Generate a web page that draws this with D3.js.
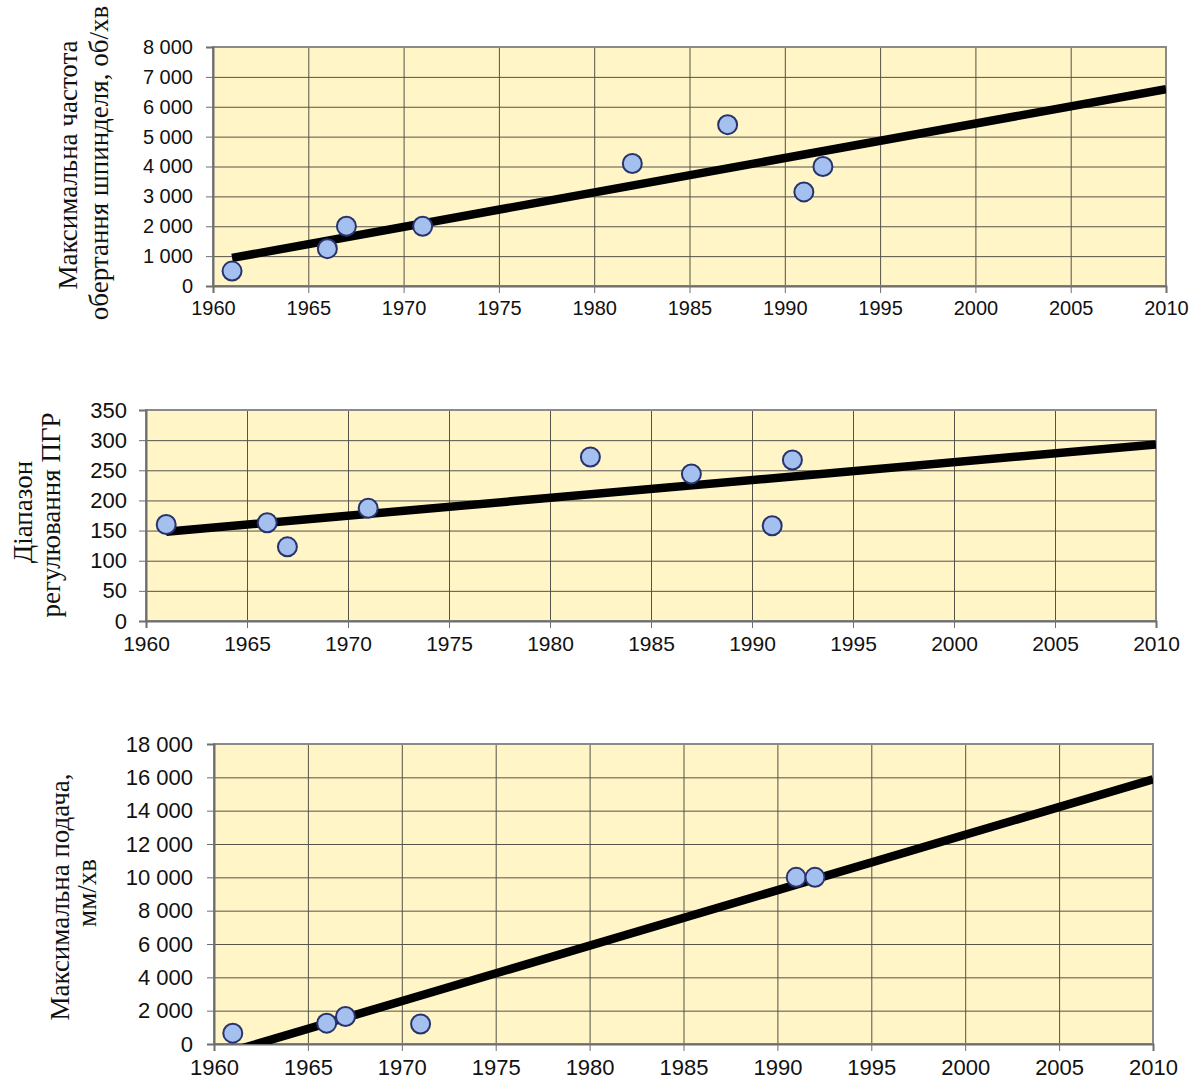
<!DOCTYPE html>
<html>
<head>
<meta charset="utf-8">
<script src="https://cdn.jsdelivr.net/npm/d3@7"></script>
<style>
  html, body { margin: 0; padding: 0; background: #ffffff; }
  svg { display: block; }
</style>
</head>
<body>
<svg id="chart" width="1199" height="1086"></svg>
<script>
// ---------- data ----------
const xTicks = [1960, 1965, 1970, 1975, 1980, 1985, 1990, 1995, 2000, 2005, 2010];

// Chart 1: max spindle speed, rpm
const speedYears  = [1961, 1966, 1967, 1971, 1982, 1987, 1991, 1992];
const speedValues = [500, 1250, 2000, 2000, 4100, 5400, 3150, 4000];
const speedTrendYears  = [1961, 2010];
const speedTrendValues = [940, 6590];
const speedTicks = [0, 1000, 2000, 3000, 4000, 5000, 6000, 7000, 8000];
const speedTitle = ["Максимальна частота", "обертання шпинделя, об/хв"];

// Chart 2: gearbox regulation range
const rangeYears  = [1961, 1966, 1967, 1971, 1982, 1987, 1991, 1992];
const rangeValues = [160, 163, 123, 187, 272, 244, 158, 267];
const rangeTrendYears  = [1961, 2010];
const rangeTrendValues = [148, 293];
const rangeTicks = [0, 50, 100, 150, 200, 250, 300, 350];
const rangeTitle = ["Діапазон", "регулювання ПГР"];

// Chart 3: max feed, mm/min
const feedYears  = [1961, 1966, 1967, 1971, 1991, 1992];
const feedValues = [650, 1250, 1650, 1200, 10000, 10000];
const feedTrendYears  = [1961, 2010];
const feedTrendValues = [-420, 15880];
const feedTicks = [0, 2000, 4000, 6000, 8000, 10000, 12000, 14000, 16000, 18000];
const feedTitle = ["Максимальна подача,", "мм/хв"];

// ---------- drawing ----------
const svg = d3.select("#chart");
const fmt = v => d3.format(",")(v).replace(/,/g, " ");

const charts = [
  { id: "c1", years: speedYears, values: speedValues, tYears: speedTrendYears, tValues: speedTrendValues,
    ticks: speedTicks, title: speedTitle,
    x0: 213, x1: 1166, y0: 47, y1: 286, yFont: 20, xFont: 20, yPad: 13,
    titleX: [77, 108], titleY: [165, 163] },
  { id: "c2", years: rangeYears, values: rangeValues, tYears: rangeTrendYears, tValues: rangeTrendValues,
    ticks: rangeTicks, title: rangeTitle,
    x0: 146, x1: 1156, y0: 410, y1: 621, yFont: 22, xFont: 21, yPad: 12,
    titleX: [32, 60], titleY: [512, 515] },
  { id: "c3", years: feedYears, values: feedValues, tYears: feedTrendYears, tValues: feedTrendValues,
    ticks: feedTicks, title: feedTitle,
    x0: 214, x1: 1153, y0: 744, y1: 1044, yFont: 22, xFont: 22, yPad: 14,
    titleX: [69, 96], titleY: [897, 893] }
];

charts.forEach(c => {
  const x = d3.scaleLinear().domain([1960, 2010]).range([c.x0, c.x1]);
  const yMax = c.ticks[c.ticks.length - 1];
  const y = d3.scaleLinear().domain([0, yMax]).range([c.y1, c.y0]);
  const g = svg.append("g");

  // plot background
  g.append("rect")
    .attr("x", c.x0).attr("y", c.y0)
    .attr("width", c.x1 - c.x0).attr("height", c.y1 - c.y0)
    .attr("fill", "#fff5c6");

  // horizontal gridlines
  g.append("g")
    .attr("transform", `translate(${c.x0},0)`)
    .call(d3.axisLeft(y).tickValues(c.ticks).tickSize(-(c.x1 - c.x0)).tickFormat(""))
    .call(a => a.select(".domain").remove())
    .call(a => a.selectAll("line").attr("stroke", "#55534a").attr("stroke-width", 1));

  // vertical gridlines
  g.append("g")
    .attr("transform", `translate(0,${c.y1})`)
    .call(d3.axisBottom(x).tickValues(xTicks).tickSize(-(c.y1 - c.y0)).tickFormat(""))
    .call(a => a.select(".domain").remove())
    .call(a => a.selectAll("line").attr("stroke", "#55534a").attr("stroke-width", 1));

  // plot border (top/right)
  g.append("rect")
    .attr("x", c.x0).attr("y", c.y0)
    .attr("width", c.x1 - c.x0).attr("height", c.y1 - c.y0)
    .attr("fill", "none").attr("stroke", "#8a8a8a").attr("stroke-width", 2);

  // y axis
  const ya = g.append("g")
    .attr("transform", `translate(${c.x0},0)`)
    .call(d3.axisLeft(y).tickValues(c.ticks).tickSize(7).tickPadding(c.yPad).tickFormat(fmt));
  ya.select(".domain").attr("stroke", "#6e6e6e").attr("stroke-width", 2);
  ya.selectAll(".tick line").attr("stroke", "#6e6e6e").attr("stroke-width", 1);
  ya.selectAll("text")
    .attr("font-family", "'Liberation Sans', Arial, sans-serif")
    .attr("font-size", c.yFont).attr("fill", "#111");

  // x axis
  const xa = g.append("g")
    .attr("transform", `translate(0,${c.y1})`)
    .call(d3.axisBottom(x).tickValues(xTicks).tickSize(7).tickPadding(8).tickFormat(d3.format("d")));
  xa.select(".domain").attr("stroke", "#6e6e6e").attr("stroke-width", 2);
  xa.selectAll(".tick line").attr("stroke", "#6e6e6e").attr("stroke-width", 1);
  xa.selectAll("text")
    .attr("font-family", "'Liberation Sans', Arial, sans-serif")
    .attr("font-size", c.xFont).attr("fill", "#111");

  // clip for trend line
  svg.append("clipPath").attr("id", "clip-" + c.id)
    .append("rect")
    .attr("x", c.x0).attr("y", c.y0)
    .attr("width", c.x1 - c.x0).attr("height", c.y1 - c.y0);

  const trend = c.tYears.map((yr, i) => [yr, c.tValues[i]]);
  g.append("path")
    .datum(trend)
    .attr("clip-path", `url(#clip-${c.id})`)
    .attr("d", d3.line().x(d => x(d[0])).y(d => y(d[1])))
    .attr("fill", "none")
    .attr("stroke", "#000")
    .attr("stroke-width", 8.5);

  // markers
  g.append("g").selectAll("circle")
    .data(c.years.map((yr, i) => [yr, c.values[i]]))
    .join("circle")
    .attr("cx", d => x(d[0]))
    .attr("cy", d => y(d[1]))
    .attr("r", 9.5)
    .attr("fill", "#a4c0ef")
    .attr("stroke", "#28336e")
    .attr("stroke-width", 2);

  // y title
  c.title.forEach((t, i) => {
    g.append("text")
      .attr("transform", `translate(${c.titleX[i]},${c.titleY[i]}) rotate(-90)`)
      .attr("text-anchor", "middle")
      .attr("font-family", "'Liberation Serif', 'Times New Roman', serif")
      .attr("font-size", 27)
      .attr("fill", "#111")
      .text(t);
  });
});
</script>
</body>
</html>
